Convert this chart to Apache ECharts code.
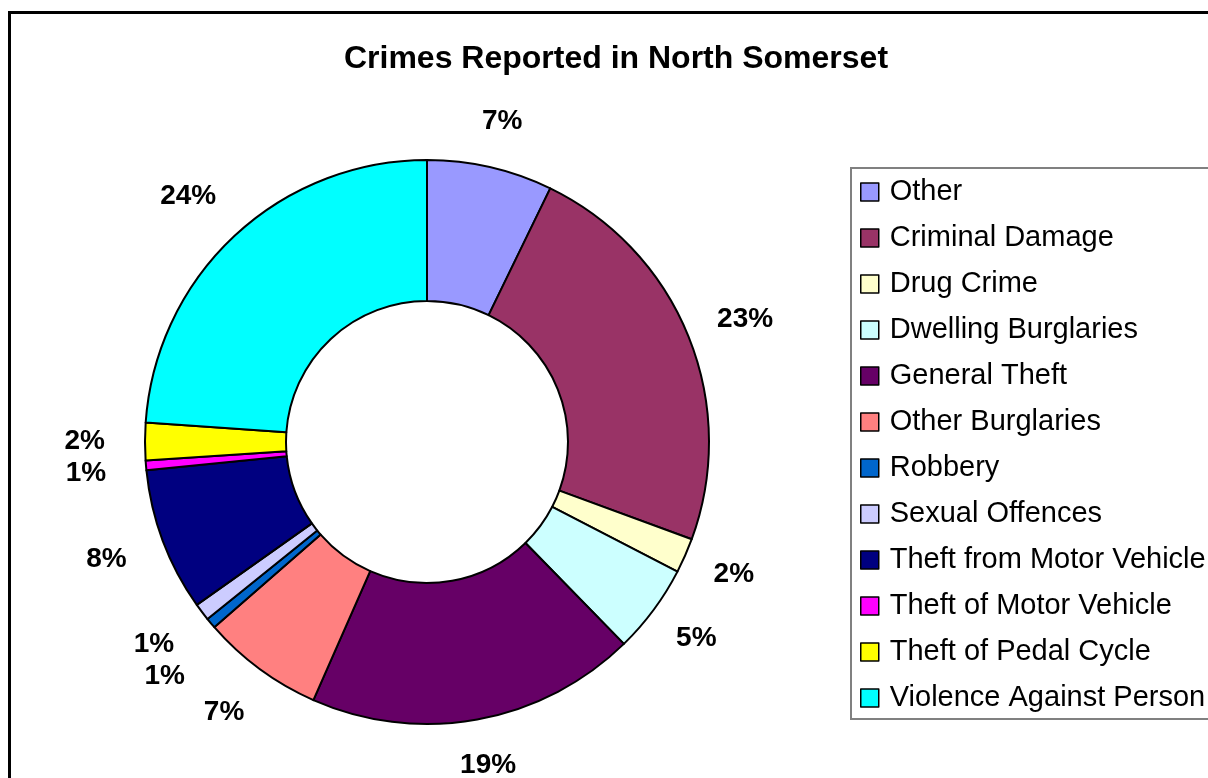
<!DOCTYPE html>
<html>
<head>
<meta charset="utf-8">
<script src="https://cdn.jsdelivr.net/npm/echarts@6/dist/echarts.min.js"></script>
<style>
  html, body { margin: 0; padding: 0; background: #ffffff; }
  #chart { width: 1208px; height: 778px; }
</style>
</head>
<body>
<div id="chart"></div>
<script>
// Crime categories, clockwise from 12 o'clock
const categories = [
  'Other',
  'Criminal Damage',
  'Drug Crime',
  'Dwelling Burglaries',
  'General Theft',
  'Other Burglaries',
  'Robbery',
  'Sexual Offences',
  'Theft from Motor Vehicle',
  'Theft of Motor Vehicle',
  'Theft of Pedal Cycle',
  'Violence Against Person'
];

// Share of all reported crimes (%)
const shares = [7.2, 23.4, 2.0, 5.1, 18.9, 7.0, 0.6, 1.0, 8.2, 0.55, 2.15, 23.9];

// Slice fill colours
const colors = [
  '#9999FF', '#993366', '#FFFFCC', '#CCFFFF', '#660066', '#FF8080',
  '#0066CC', '#CCCCFF', '#000080', '#FF00FF', '#FFFF00', '#00FFFF'
];

const FONT = 'Arial, "Liberation Sans", sans-serif';
const total = shares.reduce((a, b) => a + b, 0);

const chart = echarts.init(document.getElementById('chart'), null, { renderer: 'canvas' });

// Gap between the ring's outer edge and the nearest side of a label box
const LABEL_GAP_RIGHT = 33;
const LABEL_GAP_LEFT = 40;

// Put each percentage just outside its slice, pushed out along the
// slice's middle direction by half the label box.
function placeLabel(params) {
  const data = chart.getModel().getSeriesByIndex(0).getData();
  const lay = data.getItemLayout(params.dataIndex);
  const mid = (lay.startAngle + lay.endAngle) / 2;
  const dx = Math.cos(mid);
  const dy = Math.sin(mid);
  const w = params.labelRect.width;
  const h = params.labelRect.height;
  const gap = dx < 0 ? LABEL_GAP_LEFT : LABEL_GAP_RIGHT;
  const out = {
    x: lay.cx + dx * (lay.r + gap + w / 2),
    y: lay.cy + dy * (lay.r + gap + h / 2),
    align: 'center',
    verticalAlign: 'middle'
  };
  // crowded small slices on the left are spread downwards
  if (dx < 0) out.moveOverlap = 'shiftY';
  return out;
}

const option = {
  animation: false,
  backgroundColor: '#ffffff',
  title: {
    text: 'Crimes Reported in North Somerset',
    left: 616,
    top: 43,
    padding: 0,
    textAlign: 'center',
    textStyle: { fontFamily: FONT, fontSize: 32, fontWeight: 'bold', color: '#000000' }
  },
  legend: {
    orient: 'vertical',
    left: 851,
    top: 168,
    padding: [9, 40, 6, 9],
    itemWidth: 18,
    itemHeight: 18,
    itemGap: 16,
    icon: 'rect',
    borderColor: '#808080',
    borderWidth: 2,
    backgroundColor: '#ffffff',
    selectedMode: false,
    itemStyle: { borderColor: '#000000', borderWidth: 1.5 },
    textStyle: {
      fontFamily: FONT, fontSize: 29, color: '#000000', lineHeight: 30,
      padding: [0, 0, 0, 6]
    },
    data: categories
  },
  graphic: [{
    type: 'rect',
    shape: { x: 9.5, y: 12.5, width: 1400, height: 1000 },
    style: { fill: 'none', stroke: '#000000', lineWidth: 3 },
    silent: true
  }],
  series: [{
    type: 'pie',
    center: [427, 442],
    radius: [141, 282],
    startAngle: 90,
    clockwise: true,
    avoidLabelOverlap: false,
    silent: true,
    itemStyle: { borderColor: '#000000', borderWidth: 2 },
    label: {
      show: true,
      position: 'outside',
      formatter: p => Math.round(p.value / total * 100) + '%',
      fontFamily: FONT,
      fontSize: 28,
      fontWeight: 'bold',
      color: '#000000',
      padding: [5, 0, 5, 0],
      minMargin: 4
    },
    labelLine: { show: false },
    labelLayout: placeLabel,
    emphasis: { disabled: true },
    data: categories.map((name, i) => ({
      name: name,
      value: shares[i],
      itemStyle: { color: colors[i] }
    }))
  }]
};

chart.setOption(option);
</script>
</body>
</html>
